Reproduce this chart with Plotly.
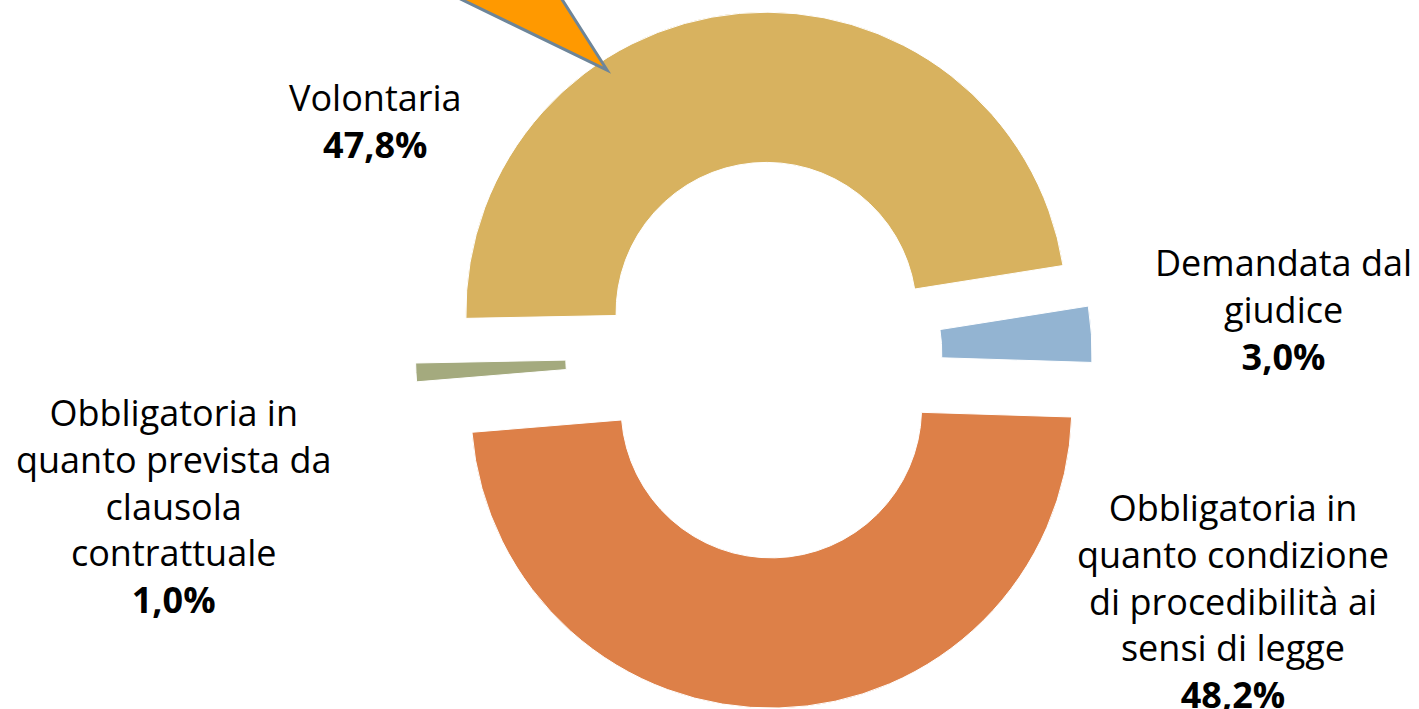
import plotly.graph_objects as go

# ---- data ----
labels = [
    "Volontaria",
    "Demandata dal giudice",
    "Obbligatoria in quanto condizione di procedibilità ai sensi di legge",
    "Obbligatoria in quanto prevista da clausola contrattuale",
]
label_lines = [
    ["Volontaria"],
    ["Demandata dal", "giudice"],
    ["Obbligatoria in", "quanto condizione", "di procedibilità ai", "sensi di legge"],
    ["Obbligatoria in", "quanto prevista da", "clausola", "contrattuale"],
]
values = [47.8, 3.0, 48.2, 1.0]

# ---- style ----
colors = ["#D8B25F", "#93B4D2", "#DD8048", "#A4AA7E"]
pulls = [0.14, 0.072, 0.177, 0.18]
label_pos = [(375, 121), (1283, 309), (1233, 601), (173, 506)]  # pixel centres

W, H = 1419, 709
cx = 770
half = H / 2

fig = go.Figure(
    go.Pie(
        labels=labels,
        values=values,
        hole=0.5,
        sort=False,
        direction="clockwise",
        rotation=-91.1,
        pull=pulls,
        marker=dict(colors=colors, line=dict(color="#FFFFFF", width=1)),
        textinfo="none",
        hoverinfo="label+percent",
        showlegend=False,
        domain=dict(x=[(cx - half) / W, (cx + half) / W], y=[0, 1]),
    )
)

def fmt(v):
    return f"{v:.1f}".replace(".", ",") + "%"

annotations = []
for lines, v, (px, py) in zip(label_lines, values, label_pos):
    text = "<br>".join(lines + [f"<b>{fmt(v)}</b>"])
    annotations.append(
        dict(
            x=px / W, y=1 - py / H, xref="paper", yref="paper",
            text=text, showarrow=False, align="center",
            xanchor="center", yanchor="middle",
            font=dict(family="Open Sans", size=36, color="#000000"),
        )
    )

def px2paper(x, y):
    return f"{x / W:.5f},{1 - y / H:.5f}"

arrow_path = "M " + px2paper(442, -10) + " L " + px2paper(607, 70) + " L " + px2paper(556, -10) + " Z"

fig.update_layout(
    width=W, height=H,
    margin=dict(l=0, r=0, t=0, b=0),
    paper_bgcolor="#FFFFFF",
    plot_bgcolor="#FFFFFF",
    annotations=annotations,
    shapes=[dict(type="path", xref="paper", yref="paper", path=arrow_path,
                 fillcolor="#FF9900", line=dict(color="#6D8599", width=3))],
)

fig.write_html("out.html", config={"displayModeBar": False},
               post_script="document.body.style.margin='0';")
